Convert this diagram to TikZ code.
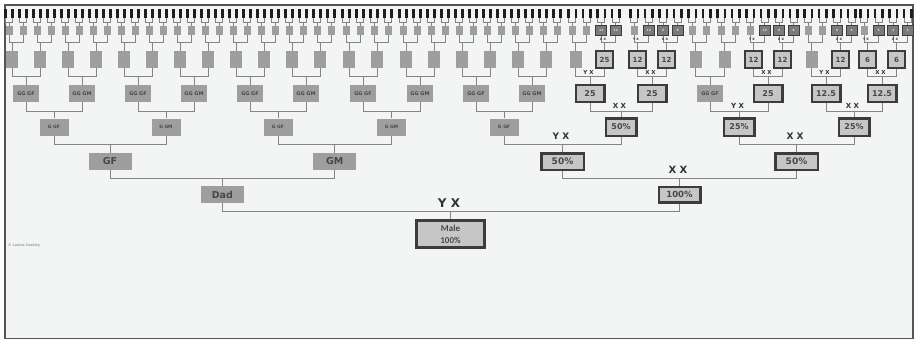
\documentclass[tikz,border=0pt]{standalone}
\usepackage{fontspec}
\setmainfont{DejaVu Sans}
\newfontfamily\carlito{Carlito}
\definecolor{bgcol}{HTML}{F3F4F4}
\definecolor{gnode}{HTML}{9E9E9E}
\definecolor{gtext}{HTML}{474747}
\definecolor{hlfill}{HTML}{C6C6C6}
\definecolor{hlborder}{HTML}{3C3C3C}
\definecolor{hlsixfill}{HTML}{7A7A7A}
\definecolor{hlsixtext}{HTML}{E4E4E4}
\definecolor{conncol}{HTML}{858585}
\definecolor{framecol}{HTML}{555555}
\definecolor{tickd}{HTML}{1E1E1E}
\definecolor{tickl}{HTML}{BDBDBD}
\definecolor{labcol}{HTML}{333333}
\definecolor{copycol}{HTML}{707070}
\newcommand\mysethl[3]{\expandafter\gdef\csname hlv-#1-#2\endcsname{#3}}
\newcommand\mygtxt[3]{\expandafter\gdef\csname gtxt-#1-#2\endcsname{#3}}
\newcommand\mknode[4]{%
  \ifcsname hlv-#1-#2\endcsname
    \node[hl#1] (n#1-#2) at (#3,#4) {\csname hlv-#1-#2\endcsname};%
  \else
    \node[g#1] (n#1-#2) at (#3,#4) {\csname gtxt-#1-\ifodd#2 1\else 0\fi\endcsname};%
  \fi}
\newcommand\mylab[5]{%
  \node[lab, xshift=-1.5pt, font=\bfseries\fontsize{#4}{#4}\selectfont] (lab-#1) at (#1.north |- 0,#3) {#5};}
% highlighted (X-line) values
\mysethl{1}{1}{100\%}
\mysethl{2}{2}{50\%}\mysethl{2}{3}{50\%}
\mysethl{3}{5}{50\%}\mysethl{3}{6}{25\%}\mysethl{3}{7}{25\%}
\mysethl{4}{10}{25}\mysethl{4}{11}{25}\mysethl{4}{13}{25}\mysethl{4}{14}{12.5}\mysethl{4}{15}{12.5}
\mysethl{5}{21}{25}\mysethl{5}{22}{12}\mysethl{5}{23}{12}\mysethl{5}{26}{12}\mysethl{5}{27}{12}
\mysethl{5}{29}{12}\mysethl{5}{30}{6}\mysethl{5}{31}{6}
\mysethl{6}{42}{12}\mysethl{6}{43}{12}\mysethl{6}{45}{12}\mysethl{6}{46}{6}\mysethl{6}{47}{6}
\mysethl{6}{53}{12}\mysethl{6}{54}{6}\mysethl{6}{55}{6}\mysethl{6}{58}{6}\mysethl{6}{59}{6}
\mysethl{6}{61}{6}\mysethl{6}{62}{3}\mysethl{6}{63}{3}
\mygtxt{4}{0}{GG GF}\mygtxt{4}{1}{GG GM}
\mygtxt{3}{0}{G GF}\mygtxt{3}{1}{G GM}
\mygtxt{2}{0}{GF}\mygtxt{2}{1}{GM}
\mygtxt{1}{0}{Dad}\mygtxt{1}{1}{Mom}
\tikzset{
  conn/.style={draw=conncol, line width=0.85pt},
  gbase/.style={rectangle, fill=gnode, inner sep=0pt, text=gtext, font=\bfseries},
  hbase/.style={rectangle, fill=hlfill, draw=hlborder, inner sep=0pt, text=gtext, font=\bfseries},
  g7/.style={rectangle, fill=tickd, inner sep=0pt, minimum width=2.3pt, minimum height=8.5pt},
  hl7/.style={rectangle, fill=tickl, inner sep=0pt, minimum width=2.3pt, minimum height=8.5pt},
  g6/.style={gbase, minimum width=7pt, minimum height=9pt},
  hl6/.style={rectangle, fill=hlsixfill, draw=hlborder, line width=1.2pt, inner sep=0pt,
     minimum width=10.8pt, minimum height=9.8pt, text=hlsixtext, font=\bfseries\fontsize{3}{3}\selectfont},
  g5/.style={gbase, minimum width=12pt, minimum height=17pt},
  hl5/.style={hbase, line width=2.2pt, minimum width=16.3pt, minimum height=16.8pt, font=\bfseries\fontsize{7}{8}\selectfont},
  g4/.style={gbase, minimum width=26pt, minimum height=17pt, font=\bfseries\fontsize{5}{6}\selectfont},
  hl4/.style={hbase, line width=2.2pt, minimum width=28.8pt, minimum height=16.8pt, font=\bfseries\fontsize{8}{9}\selectfont},
  g3/.style={gbase, minimum width=29pt, minimum height=17pt, font=\bfseries\fontsize{4.5}{5}\selectfont},
  hl3/.style={hbase, line width=2.5pt, minimum width=30.5pt, minimum height=17.5pt, font=\bfseries\fontsize{8}{9}\selectfont},
  g2/.style={gbase, minimum width=43pt, minimum height=17pt, font=\bfseries\fontsize{9.5}{11}\selectfont},
  hl2/.style={hbase, line width=2.5pt, minimum width=42.5pt, minimum height=16.5pt, font=\bfseries\fontsize{9}{10}\selectfont},
  g1/.style={g2},
  hl1/.style={hbase, line width=2.5pt, minimum width=41.5pt, minimum height=15.5pt, font=\bfseries\fontsize{8.5}{10}\selectfont},
  hl0/.style={hbase, line width=3pt, minimum width=68pt, minimum height=27pt, align=center,
     font=\carlito\bfseries\fontsize{9}{12}\selectfont},
  lab/.style={text=labcol, inner sep=0pt},
}
\begin{document}
\begin{tikzpicture}[x=1pt,y=-1pt]
\useasboundingbox (0,0) rectangle (918,341);
\fill[white] (0,0) rectangle (918,341);
\filldraw[fill=bgcol, draw=framecol, line width=1.6pt] (4.8,4.8) rectangle (913.2,338.5);
% level 0
\node[hl0] (n0-0) at (450.5,234) {Male\\100\%};
% level 1
\foreach \x [count=\i from 0] in {222.4,679.5} {\mknode{1}{\i}{\x}{194.5}}
% level 2
\foreach \x [count=\i from 0] in {110,334.8,562.5,796.5} {\mknode{2}{\i}{\x}{161.5}}
% level 3
\foreach \x [count=\i from 0] in {54,166,278,391.5,504,621,739,854} {\mknode{3}{\i}{\x}{127}}
% levels 4-7
\foreach \xx [count=\i from 0] in {26,82,138,194,250,306,363,420,476,532,590,652,710,768,826,882} {
  \mknode{4}{\i}{\xx}{93.5}
  \pgfmathsetmacro\dd{\i<10 ? 14 : 14.5}
  \foreach \s in {0,1} {
    \pgfmathtruncatemacro\j{2*\i+\s}
    \pgfmathsetmacro\xv{\xx+(2*\s-1)*\dd}
    \mknode{5}{\j}{\xv}{59.5}
    \foreach \t in {0,1} {
      \pgfmathtruncatemacro\k{2*\j+\t}
      \pgfmathsetmacro\xw{\xv+(2*\t-1)*\dd/2+4}
      \mknode{6}{\k}{\xw}{30.5}
      \foreach \u in {0,1} {
        \pgfmathtruncatemacro\m{2*\k+\u}
        \pgfmathsetmacro\xz{\xw+(2*\u-1)*\dd/4}
        \mknode{7}{\m}{\xz}{13.5}
      }
    }
  }
}
% connectors
\foreach \lv/\by in {0/211,1/178,2/144,3/111,4/76,5/42,6/22} {
  \pgfmathtruncatemacro\nmax{2^\lv-1}
  \pgfmathtruncatemacro\up{\lv+1}
  \foreach \i in {0,...,\nmax} {
    \pgfmathtruncatemacro\fa{2*\i}
    \pgfmathtruncatemacro\mo{2*\i+1}
    \draw[conn] (n\up-\fa.south) -- (n\up-\fa.south |- 0,\by) -- (n\up-\mo.south |- 0,\by) -- (n\up-\mo.south);
    \draw[conn] (n\lv-\i.north) -- (n\lv-\i.north |- 0,\by);
  }
}
% chromosome labels
\mylab{n0-0}{}{203}{12}{Y X}
\mylab{n1-1}{}{170}{10}{X X}
\mylab{n2-2}{}{136}{9}{Y X}
\mylab{n2-3}{}{136}{9}{X X}
\mylab{n3-5}{}{106}{7}{X X}
\mylab{n3-6}{}{106}{7}{Y X}
\mylab{n3-7}{}{106}{7}{X X}
\mylab{n4-10}{}{72.5}{5.5}{Y X}
\mylab{n4-11}{}{72.5}{5.5}{X X}
\mylab{n4-13}{}{72.5}{5.5}{X X}
\mylab{n4-14}{}{72.5}{5.5}{Y X}
\mylab{n4-15}{}{72.5}{5.5}{X X}
\mylab{n5-21}{}{39.5}{3.2}{X X}
\mylab{n5-22}{}{39.5}{3.2}{Y X}
\mylab{n5-23}{}{39.5}{3.2}{X X}
\mylab{n5-26}{}{39.5}{3.2}{Y X}
\mylab{n5-27}{}{39.5}{3.2}{X X}
\mylab{n5-29}{}{39.5}{3.2}{X X}
\mylab{n5-30}{}{39.5}{3.2}{Y X}
\mylab{n5-31}{}{39.5}{3.2}{X X}
\node[anchor=west, inner sep=0pt, text=copycol, font=\fontsize{3.6}{4}\selectfont] (copyright) at (8,245) {© Louise Coakley};
\end{tikzpicture}
\end{document}
